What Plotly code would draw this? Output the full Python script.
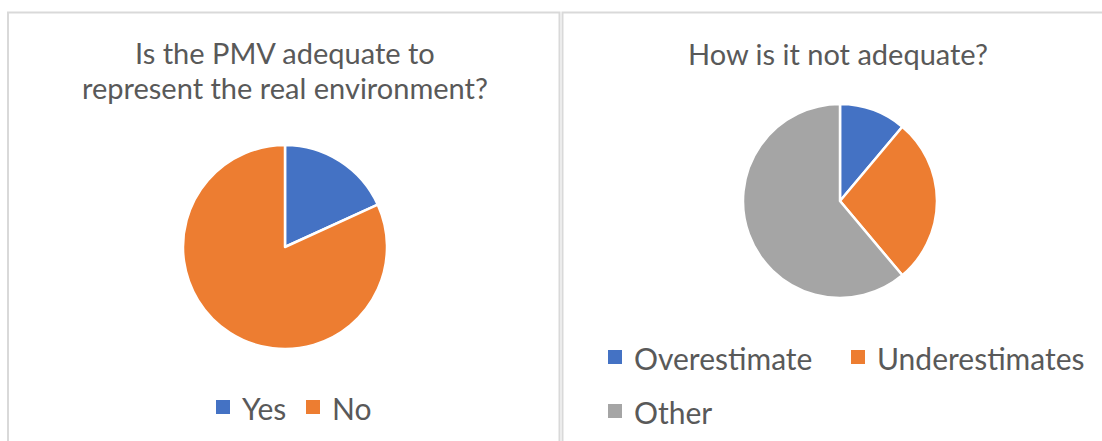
import plotly.graph_objects as go

# ---- data ----
q1_title = ["Is the PMV adequate to", "represent the real environment?"]
q1_labels = ["Yes", "No"]
q1_values = [4, 18]

q2_title = ["How is it not adequate?"]
q2_labels = ["Overestimate", "Underestimates", "Other"]
q2_values = [2, 5, 11]

colors = ["#4472C4", "#ED7D31", "#A5A5A5"]
text_color = "#595959"
FONT = "Lato"

W, H = 1102, 441

def px(x):
    return x / W

def py(y):
    return 1 - y / H

fig = go.Figure()

fig.add_trace(go.Pie(
    labels=q1_labels, values=q1_values, sort=False, direction="clockwise", rotation=0,
    marker=dict(colors=colors[:2], line=dict(color="white", width=2.5)),
    textinfo="none", showlegend=False,
    domain=dict(x=[px(183), px(387)], y=[py(349), py(145)]),
))
fig.add_trace(go.Pie(
    labels=q2_labels, values=q2_values, sort=False, direction="clockwise", rotation=0,
    marker=dict(colors=colors[:3], line=dict(color="white", width=2.5)),
    textinfo="none", showlegend=False,
    domain=dict(x=[px(743), px(937)], y=[py(298), py(104)]),
))

annotations = []
shapes = []

TITLE_SIZE = 29
LEG_SIZE = 30

def add_title(lines, cx, first_center, spacing=35):
    for i, line in enumerate(lines):
        annotations.append(dict(text=line, x=px(cx), y=py(first_center + i * spacing),
                                xref="paper", yref="paper", showarrow=False,
                                xanchor="center", yanchor="middle",
                                font=dict(family=FONT, size=TITLE_SIZE, color=text_color)))

add_title(q1_title, 285, 52)
add_title(q2_title, 838, 53.5)

def add_legend_item(label, color, sx, sy):
    # swatch square (14 px) with top-left at (sx, sy), text starts 11 px after it
    shapes.append(dict(type="rect", xref="paper", yref="paper",
                       x0=px(sx), x1=px(sx + 14), y0=py(sy + 14), y1=py(sy),
                       fillcolor=color, line=dict(width=0)))
    annotations.append(dict(text=label, x=px(sx + 24), y=py(sy + 8),
                            xref="paper", yref="paper", showarrow=False,
                            xanchor="left", yanchor="middle",
                            font=dict(family=FONT, size=LEG_SIZE, color=text_color)))

leg1_pos = [(216, 400), (306, 400)]
for l, c, (sx, sy) in zip(q1_labels, colors, leg1_pos):
    add_legend_item(l, c, sx, sy)

leg2_pos = [(608, 350), (851, 350), (608, 404)]
for l, c, (sx, sy) in zip(q2_labels, colors, leg2_pos):
    add_legend_item(l, c, sx, sy)

shapes += [
    dict(type="rect", xref="paper", yref="paper", x0=px(8), x1=px(559.5), y0=py(460), y1=py(12.5),
         line=dict(color="#D9D9D9", width=2), fillcolor="rgba(0,0,0,0)"),
    dict(type="rect", xref="paper", yref="paper", x0=px(562.5), x1=px(1120), y0=py(460), y1=py(12.5),
         line=dict(color="#D9D9D9", width=2), fillcolor="rgba(0,0,0,0)"),
]

fig.update_layout(
    width=W, height=H, margin=dict(l=0, r=0, t=0, b=0),
    paper_bgcolor="white", plot_bgcolor="white",
    annotations=annotations, shapes=shapes, showlegend=False,
)

fig.write_html("out.html")
